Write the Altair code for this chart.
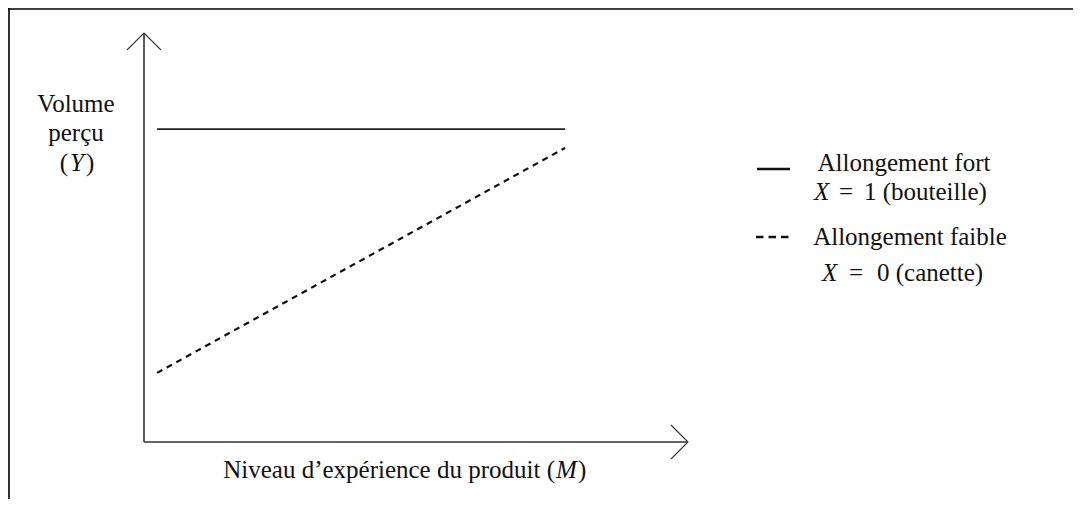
import altair as alt
import pandas as pd

# ---- data (abstract units: axis length = 10) ----
niveau = [0.24, 7.74]          # M, start and end of both lines
y_fort = [7.65, 7.65]          # X = 1 (bouteille), allongement fort
y_faible = [1.69, 7.19]        # X = 0 (canette), allongement faible
axe_m = [0, 10]                # horizontal axis (M)
axe_y = [0, 10]                # vertical axis (Y)

# ---- layout ----
W, H = 1065, 491
ORX, ORY = 136, 434            # origin of the axes inside the chart, px
KX, KY = 54.4, 40.9            # px per unit
xdom = [-ORX / KX, (W - ORX) / KX]
ydom = [-(H - ORY) / KY, ORY / KY]
xs = alt.Scale(domain=xdom, nice=False, zero=False)
ys = alt.Scale(domain=ydom, nice=False, zero=False)
FONT = "Liberation Serif"
FS = 25
INK = "#111111"

lines = pd.DataFrame({
    "M": niveau + niveau,
    "Y": y_fort + y_faible,
    "serie": ["fort"] * 2 + ["faible"] * 2,
})

base = alt.Chart(lines)
solid = base.transform_filter(alt.datum.serie == "fort").mark_line(
    color="#222222", strokeWidth=1.6
).encode(x=alt.X("M:Q", scale=xs, axis=None), y=alt.Y("Y:Q", scale=ys, axis=None))
dashed = base.transform_filter(alt.datum.serie == "faible").mark_line(
    color="#111111", strokeWidth=2.2, strokeDash=[6, 5]
).encode(x=alt.X("M:Q", scale=xs, axis=None), y=alt.Y("Y:Q", scale=ys, axis=None))

axes_df = pd.DataFrame({"m0": [axe_m[0], 0], "m1": [axe_m[1], 0],
                        "y0": [0, axe_y[0]], "y1": [0, axe_y[1]]})
axes = alt.Chart(axes_df).mark_rule(color="#333333", strokeWidth=1.6).encode(
    x=alt.X("m0:Q", scale=xs, axis=None), x2="m1:Q",
    y=alt.Y("y0:Q", scale=ys, axis=None), y2="y1:Q",
)

CHEVRON = "M-1,1L0,0L1,1"
tip_y = alt.Chart(pd.DataFrame({"M": [0], "Y": [axe_y[1]]})).mark_point(
    shape=CHEVRON, filled=False, size=1156, strokeWidth=1.1, color="#333333", opacity=1
).encode(x=alt.X("M:Q", scale=xs, axis=None), y=alt.Y("Y:Q", scale=ys, axis=None))
tip_x = alt.Chart(pd.DataFrame({"M": [axe_m[1]], "Y": [0]})).mark_point(
    shape=CHEVRON, filled=False, size=1156, strokeWidth=1.1, color="#333333", opacity=1,
    angle=90
).encode(x=alt.X("M:Q", scale=xs, axis=None), y=alt.Y("Y:Q", scale=ys, axis=None))

# frame (top and left edges)
frame_top = alt.Chart(pd.DataFrame({"k": [0]})).mark_rule(color="#000000", strokeWidth=1.6).encode(
    x=alt.value(0), x2=alt.value(W), y=alt.value(1))
frame_left = alt.Chart(pd.DataFrame({"k": [0]})).mark_rule(color="#000000", strokeWidth=1.6).encode(
    x=alt.value(1), y=alt.value(0), y2=alt.value(H))


def txt(s, x, y, align="center", italic=False):
    return alt.Chart(pd.DataFrame({"t": [s]})).mark_text(
        font=FONT, fontSize=FS, color=INK, align=align, baseline="alphabetic",
        fontStyle="italic" if italic else "normal",
    ).encode(x=alt.value(x), y=alt.value(y), text="t:N")


texts = [
    # y-axis title
    txt("Volume", 68, 104),
    txt("perçu", 68, 133),
    txt("(", 60, 163, align="right"),
    txt("Y", 69, 163, italic=True),
    txt(")", 78, 163, align="left"),
    # x-axis title
    txt("Niveau d\u2019expérience du produit (", 547, 470, align="right"),
    txt("M", 548, 470, align="left", italic=True),
    txt(")", 570, 470, align="left"),
    # legend
    txt("Allongement fort", 896, 163),
    txt("X", 806, 192, align="left", italic=True),
    txt("=", 831, 192, align="left"),
    txt("1 (bouteille)", 856, 192, align="left"),
    txt("Allongement faible", 902, 237),
    txt("X", 814, 273, align="left", italic=True),
    txt("=", 841, 273, align="left"),
    txt("0 (canette)", 869, 273, align="left"),
]

leg_solid = alt.Chart(pd.DataFrame({"k": [0]})).mark_rule(color="#111111", strokeWidth=2.6).encode(
    x=alt.value(749), x2=alt.value(782), y=alt.value(161))
leg_dash = alt.Chart(pd.DataFrame({"k": [0]})).mark_rule(
    color="#111111", strokeWidth=2.6, strokeDash=[7.5, 5]).encode(
    x=alt.value(748), x2=alt.value(781), y=alt.value(229))

chart = alt.layer(
    frame_top, frame_left, axes, tip_y, tip_x, solid, dashed, leg_solid, leg_dash, *texts
).properties(
    width=W, height=H, padding=0,
    autosize=alt.AutoSizeParams(type="none"),
).configure_view(strokeWidth=0)

chart.save("out.html", embed_options={"renderer": "svg", "actions": False})
